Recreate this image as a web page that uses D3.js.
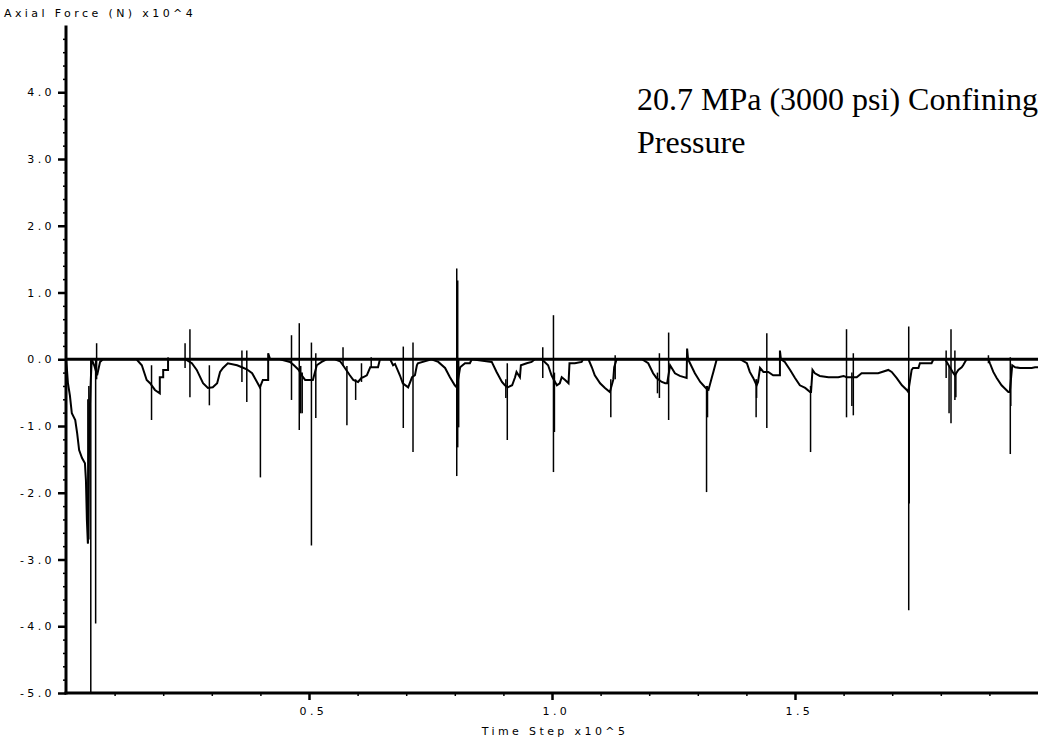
<!DOCTYPE html>
<html>
<head>
<meta charset="utf-8">
<script src="https://cdn.jsdelivr.net/npm/d3@7"></script>
<style>
body { margin: 0; background: #fff; }
svg { display: block; }
.lbl { font-family: "DejaVu Sans", sans-serif; font-size: 11px; letter-spacing: 3.4px; fill: #000; }
.note { font-family: "Liberation Serif", "Times New Roman", serif; font-size: 32px; fill: #000; }
</style>
</head>
<body>
<svg width="1043" height="740"></svg>
<script>
// tick values (time step in 10^5, force in 10^4 N)
var yMajor = [-5, -4, -3, -2, -1, 0, 1, 2, 3, 4];
var xMajor = [0.5, 1.0, 1.5];

// main trace [time step, axial force]
var trace = [
    [0, 0], [0.002, -0.16], [0.004, -0.36], [0.008, -0.54], [0.012, -0.81], [0.019, -0.91],
    [0.023, -1.11], [0.027, -1.36], [0.033, -1.48], [0.039, -1.56], [0.041, -1.81], [0.043, -2.41],
    [0.045, -2.76], [0.047, -1.51], [0.049, -0.76], [0.051, -0.31], [0.053, 0], [0.058, -0.09],
    [0.064, -0.24], [0.070, -0.04], [0.076, 0],
    [0.145, 0], [0.156, -0.09], [0.166, -0.31], [0.173, -0.36], [0.183, -0.46], [0.193, -0.51],
    [0.193, -0.27], [0.200, -0.27], [0.200, -0.16], [0.210, -0.16], [0.210, 0],
    [0.245, 0], [0.259, -0.06], [0.269, -0.16], [0.282, -0.36], [0.292, -0.43], [0.302, -0.42],
    [0.311, -0.36], [0.317, -0.19], [0.323, -0.13], [0.333, -0.06], [0.352, -0.09], [0.362, -0.12],
    [0.372, -0.15], [0.383, -0.21], [0.393, -0.34], [0.399, -0.42], [0.405, -0.31], [0.416, -0.31],
    [0.416, 0.09], [0.420, 0],
    [0.440, 0], [0.461, -0.04], [0.469, -0.09], [0.479, -0.16], [0.485, -0.24], [0.492, -0.31],
    [0.502, -0.31], [0.508, -0.31], [0.516, -0.09], [0.526, -0.04], [0.536, 0],
    [0.553, 0], [0.564, -0.03], [0.570, -0.09], [0.584, -0.24], [0.591, -0.31], [0.601, -0.34],
    [0.608, -0.28], [0.611, -0.27], [0.619, -0.24], [0.626, -0.12], [0.642, -0.12], [0.646, 0],
    [0.667, 0], [0.673, -0.09], [0.677, -0.07], [0.687, -0.24], [0.693, -0.36], [0.704, -0.42],
    [0.712, -0.27], [0.718, -0.24], [0.722, -0.09], [0.724, -0.06], [0.752, 0],
    [0.766, -0.04], [0.780, -0.13], [0.790, -0.27], [0.800, -0.39], [0.804, -0.42], [0.811, -0.12],
    [0.821, -0.06], [0.831, -0.06], [0.835, 0],
    [0.876, -0.04], [0.886, -0.19], [0.897, -0.34], [0.903, -0.39], [0.909, -0.42], [0.918, -0.39],
    [0.924, -0.27], [0.927, -0.19], [0.934, -0.27], [0.936, -0.09], [0.948, -0.06], [0.958, -0.04],
    [0.965, 0],
    [0.979, 0], [0.992, -0.09], [0.999, -0.24], [1.004, -0.31], [1.010, -0.39], [1.016, -0.36],
    [1.020, -0.27], [1.027, -0.31], [1.034, -0.36], [1.036, -0.06], [1.047, -0.06], [1.061, -0.04],
    [1.064, 0],
    [1.075, 0], [1.082, -0.12], [1.088, -0.24], [1.099, -0.36], [1.109, -0.43], [1.119, -0.49],
    [1.126, -0.31], [1.128, -0.12], [1.133, 0],
    [1.185, 0], [1.198, -0.06], [1.208, -0.21], [1.215, -0.28], [1.226, -0.34], [1.233, -0.36],
    [1.237, -0.36], [1.243, -0.09], [1.253, -0.21], [1.263, -0.25], [1.277, -0.28], [1.278, 0.16],
    [1.280, 0],
    [1.284, -0.06], [1.294, -0.21], [1.305, -0.34], [1.315, -0.42], [1.319, -0.45], [1.322, -0.46],
    [1.329, -0.27], [1.332, -0.19], [1.339, 0],
    [1.387, 0], [1.401, -0.06], [1.407, -0.19], [1.414, -0.28], [1.421, -0.39], [1.424, -0.34],
    [1.428, -0.13], [1.435, -0.19], [1.445, -0.19], [1.455, -0.24], [1.469, -0.24], [1.469, 0.13],
    [1.471, 0],
    [1.479, -0.04], [1.490, -0.16], [1.500, -0.28], [1.510, -0.39], [1.521, -0.43], [1.531, -0.49],
    [1.533, -0.49], [1.536, -0.16], [1.541, -0.21], [1.551, -0.25], [1.569, -0.27], [1.589, -0.27],
    [1.600, -0.25], [1.606, -0.27], [1.613, -0.27], [1.620, -0.27], [1.627, -0.27], [1.637, -0.21],
    [1.651, -0.21], [1.671, -0.21], [1.692, -0.16], [1.699, -0.19], [1.709, -0.28], [1.720, -0.39],
    [1.730, -0.46], [1.733, -0.49], [1.740, -0.16], [1.743, -0.13], [1.754, -0.13], [1.757, -0.06],
    [1.781, -0.06], [1.785, 0],
    [1.809, 0], [1.817, -0.1], [1.826, -0.21], [1.829, -0.24], [1.836, -0.16], [1.843, -0.12],
    [1.846, -0.09], [1.853, 0],
    [1.898, 0], [1.901, -0.06], [1.908, -0.19], [1.915, -0.28], [1.925, -0.39], [1.939, -0.49],
    [1.942, -0.49], [1.947, -0.09], [1.953, -0.12], [1.963, -0.13], [1.987, -0.13], [1.994, -0.12],
    [2.000, -0.12]
];

// short transient spikes [time step, low, high]
var spikes = [
    [0.045, -2.76, -0.6], [0.047, -2.7, -0.4], [0.051, -5.0, 0], [0.061, -3.96, 0], [0.063, -0.3, 0.24],
    [0.176, -0.91, -0.09], [0.210, 0, 0.03],
    [0.245, -0.13, 0.24], [0.255, -0.57, 0.45], [0.295, -0.69, -0.09], [0.362, -0.34, 0.13],
    [0.372, -0.64, 0.13], [0.400, -1.77, -0.4],
    [0.464, -0.61, 0.36], [0.480, -1.06, 0.54], [0.483, -0.81, -0.1], [0.486, -0.81, -0.2],
    [0.505, -2.79, 0.25], [0.514, -0.88, 0.09],
    [0.570, -0.1, 0.18], [0.578, -0.99, -0.1], [0.596, -0.61, -0.3], [0.608, -0.34, -0.06], [0.628, -0.12, 0.03],
    [0.694, -1.03, 0.19], [0.714, -1.39, 0.25],
    [0.804, -1.75, 1.36], [0.806, -1.32, 1.18], [0.808, -1.02, 0],
    [0.905, -0.58, -0.3], [0.908, -1.21, -0.06],
    [0.981, -0.28, 0.18], [1.003, -1.69, 0.66], [1.005, -1.09, -0.2],
    [1.121, -0.87, -0.3], [1.130, -0.3, 0.06],
    [1.217, -0.51, -0.2], [1.221, -0.58, 0.09], [1.240, -0.91, 0.4],
    [1.318, -1.99, -0.4], [1.320, -0.87, -0.4],
    [1.420, -0.87, -0.3], [1.421, -0.58, -0.3], [1.442, -1.03, 0.39],
    [1.532, -1.39, -0.4], [1.606, -0.87, 0.45], [1.617, -0.7, -0.2], [1.620, -0.84, 0.09],
    [1.734, -3.76, 0.49], [1.735, -2.16, -0.4],
    [1.811, -0.28, 0.13], [1.817, -0.81, -0.1], [1.821, -0.96, 0.45], [1.829, -0.61, 0.13], [1.831, -0.57, -0.2],
    [1.898, -0.06, 0.06], [1.943, -1.42, 0.03], [1.944, -0.7, -0.3]
];

var svg = d3.select("svg");
var x = d3.scaleLinear().domain([0, 2]).range([66, 1038]);
var y = d3.scaleLinear().domain([-5, 5]).range([693, 25.5]);

// minor tick positions
var yMinor = d3.range(-50, 51, 2).map(function(d) { return d / 10; })
    .filter(function(d) { return Math.abs(d - Math.round(d)) > 1e-6; });
var xMinor = d3.range(1, 20).map(function(d) { return d / 10; })
    .filter(function(d) { return xMajor.indexOf(d) < 0; });

// y axis
var gy = svg.append("g").attr("transform", "translate(66,0)");
gy.append("g")
    .call(d3.axisLeft(y).tickValues(yMinor).tickSize(3).tickFormat(""))
    .call(function(g) { g.select(".domain").remove(); })
    .selectAll("line").attr("stroke-width", 1.5);
gy.append("g")
    .call(d3.axisLeft(y).tickValues(yMajor).tickSize(8).tickPadding(3).tickFormat(d3.format(".1f")))
    .call(function(g) { g.select(".domain").remove(); })
    .call(function(g) {
        g.selectAll("line").attr("stroke-width", 2.5);
        g.selectAll("text").attr("class", "lbl").attr("font-size", null).attr("font-family", null)
            .text(function(d) { return d3.format(".1f")(d).replace("\u2212", "-"); });
    });
gy.append("line").attr("x1", 0).attr("x2", 0).attr("y1", y(5)).attr("y2", y(-5) + 1.5)
    .attr("stroke", "#000").attr("stroke-width", 3);

// x axis
var gx = svg.append("g").attr("transform", "translate(0,693)");
gx.append("g")
    .call(d3.axisBottom(x).tickValues(xMinor).tickSize(3).tickFormat(""))
    .call(function(g) { g.select(".domain").remove(); })
    .selectAll("line").attr("stroke-width", 1.5);
gx.append("g")
    .call(d3.axisBottom(x).tickValues(xMajor).tickSize(7).tickPadding(7).tickFormat(d3.format(".1f")))
    .call(function(g) { g.select(".domain").remove(); })
    .call(function(g) {
        g.selectAll("line").attr("stroke-width", 2.5);
        g.selectAll("text").attr("class", "lbl").attr("font-size", null).attr("font-family", null)
            .attr("dx", "0.35em");
    });
gx.append("line").attr("x1", x(0) - 1.5).attr("x2", x(2)).attr("y1", 0).attr("y2", 0)
    .attr("stroke", "#000").attr("stroke-width", 3);

// axis titles
svg.append("text").attr("class", "lbl").attr("x", 4).attr("y", 17).text("Axial Force (N) x10^4");
svg.append("text").attr("class", "lbl").attr("x", 555).attr("y", 735).attr("text-anchor", "middle")
    .text("Time Step x10^5");

// zero line
svg.append("line").attr("x1", x(0)).attr("x2", x(2)).attr("y1", y(0)).attr("y2", y(0))
    .attr("stroke", "#000").attr("stroke-width", 3);

// spikes
svg.append("g").selectAll("line")
    .data(spikes)
  .enter().append("line")
    .attr("x1", function(d) { return x(d[0]); })
    .attr("x2", function(d) { return x(d[0]); })
    .attr("y1", function(d) { return y(d[1]); })
    .attr("y2", function(d) { return y(d[2]); })
    .attr("stroke", "#000").attr("stroke-width", 1.5);

// trace
var line = d3.line()
    .x(function(d) { return x(d[0]); })
    .y(function(d) { return y(d[1]); });
svg.append("path").datum(trace)
    .attr("d", line)
    .attr("fill", "none").attr("stroke", "#000").attr("stroke-width", 2)
    .attr("stroke-linejoin", "miter");

// annotation
var note = svg.append("text").attr("class", "note").attr("x", 637).attr("y", 110);
note.append("tspan").attr("x", 637).text("20.7 MPa (3000 psi) Confining");
note.append("tspan").attr("x", 637).attr("dy", 43).text("Pressure");
</script>
</body>
</html>
